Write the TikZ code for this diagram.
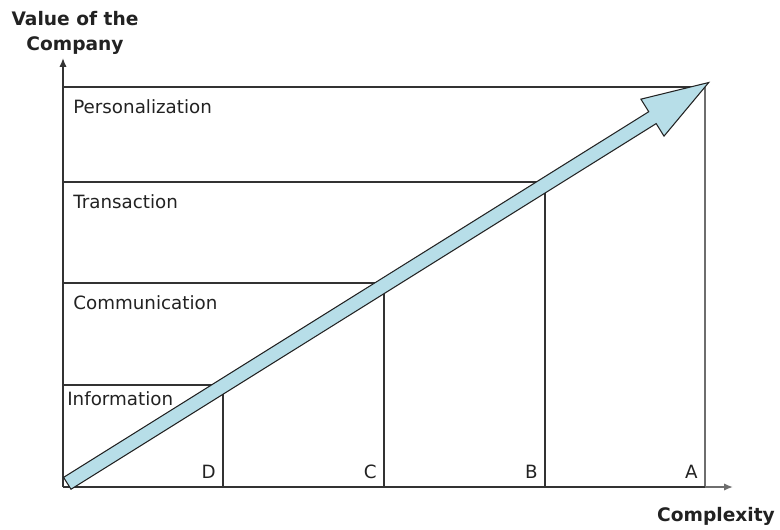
\documentclass[tikz,border=0pt]{standalone}
\usepackage{fontspec}
\setmainfont{DejaVu Sans}
\usepackage{tikz}
\usetikzlibrary{arrows.meta,positioning,shapes}
\definecolor{arrowblue}{HTML}{B7DEE8}
\definecolor{linegray}{HTML}{333333}
\definecolor{edgegray}{HTML}{6E6E6E}
\definecolor{textgray}{HTML}{222222}

\begin{document}
\begin{tikzpicture}[x=0.02cm,y=-0.02cm,
  grid/.style={draw=linegray,line width=0.7pt},
  axis/.style={draw=linegray,line width=1pt},
  axistip/.style={-{Latex[length=5pt,width=4.2pt]}},
  level/.style={anchor=base west,inner sep=0pt,text=textgray,font=\fontsize{10.4}{12}\selectfont},
  letter/.style={anchor=base east,inner sep=0pt,text=textgray,font=\fontsize{10.4}{12}\selectfont},
  axislabel/.style={inner sep=0pt,align=center,text=textgray,font=\bfseries\fontsize{10.6}{14.2}\selectfont},
  bigarrow/.style={fill=arrowblue,draw=textgray,line width=0.6pt,line join=miter}]
\useasboundingbox (0,0) rectangle (780,530);
\coordinate (o) at (63,487);
\coordinate (ytip) at (63,58);
\coordinate (xend) at (705,487);
\coordinate (xtip) at (733,487);
\coordinate (p1) at (63,87);
\coordinate (p2) at (705,87);
\coordinate (t1) at (63,182);
\coordinate (t2) at (545,182);
\coordinate (c1) at (63,283);
\coordinate (c2) at (384,283);
\coordinate (i1) at (63,385);
\coordinate (i2) at (223,385);
\coordinate (d) at (223,487);
\coordinate (c) at (384,487);
\coordinate (b) at (545,487);
\draw[grid] (p1) -- (p2);
\draw[grid] (t1) -- (t2) -- (b);
\draw[grid] (c1) -- (c2) -- (c);
\draw[grid] (i1) -- (i2) -- (d);
\draw[draw=edgegray,line width=1.1pt] (p2) -- (xend);
\draw[axis,axistip] (o) -- (ytip);
\draw[axis] (o) -- (xend);
\draw[draw=edgegray,line width=1pt,axistip] (xend) -- (xtip);
\node[level] (personal) at (73,114) {Personalization};
\node[level] (trans) at (73,209) {Transaction};
\node[level] (comm) at (73,309) {Communication};
\node[level] (info) at (67,405) {Information};
\node[letter] (ld) at (216,478) {D};
\node[letter] (lc) at (377,478) {C};
\node[letter] (lb) at (538,478) {B};
\node[letter] (la) at (698,478) {A};
\node[axislabel] (value) at (75,33) {Value of the\\Company};
\node[axislabel] (complex) at (716,516) {Complexity};
\begin{scope}[shift={(67.3,483.3)},rotate=32]
\draw[bigarrow] (0,-7) -- (690,-7) -- (690,-21.8) -- (756.3,0) -- (690,21.8) -- (690,7) -- (0,7) -- cycle;
\end{scope}
\end{tikzpicture}
\end{document}
